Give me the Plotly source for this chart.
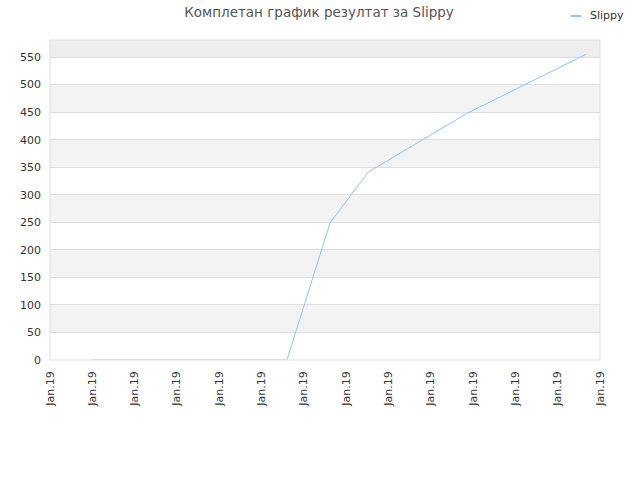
import plotly.graph_objects as go

# data
x_pos = [0.97, 5.60, 6.62, 7.52, 9.86, 12.67]
y_vals = [0, 0, 249, 341, 448, 555]
tick_vals = list(range(14))
tick_labels = ["Jan.19"] * 14
series_name = "Slippy"
title_text = "Комплетан график резултат за Slippy"
y_max = 581

W, H = 640, 480
ML, MR, MT, MB = 50, 40, 40, 120

fig = go.Figure()
fig.add_trace(go.Scatter(x=x_pos, y=y_vals, mode="lines", name=series_name,
                         line=dict(color="#90c4f4", width=1), showlegend=False))

shapes = []
for lo in range(50, 550, 100):
    shapes.append(dict(type="rect", xref="paper", yref="y", x0=0, x1=1, y0=lo, y1=lo + 50,
                       fillcolor="#f3f3f3", line_width=0, layer="below"))
shapes.append(dict(type="rect", xref="paper", yref="y", x0=0, x1=1, y0=550, y1=y_max,
                   fillcolor="#eeeeee", line_width=0, layer="below"))
shapes.append(dict(type="rect", xref="paper", yref="paper", x0=0, x1=1, y0=0, y1=1,
                   fillcolor="rgba(0,0,0,0)", line=dict(color="#dddddd", width=1)))

# legend drawn manually (short line sample); coords are screen pixels
pw, ph = W - ML - MR, H - MT - MB
def px_x(p):
    return (p - ML) / pw
def px_y(p):
    return (H - MB - p) / ph
shapes.append(dict(type="line", xref="paper", yref="paper", x0=px_x(571), x1=px_x(581),
                   y0=px_y(16), y1=px_y(16), line=dict(color="#90c4f4", width=2)))
annotations = [dict(text=series_name, xref="paper", yref="paper", x=px_x(588), y=px_y(15),
                    xanchor="left", yanchor="middle", showarrow=False,
                    font=dict(size=11, color="#333333"))]

fig.update_layout(
    width=W, height=H,
    margin=dict(l=ML, r=MR, t=MT, b=MB, autoexpand=False),
    paper_bgcolor="white", plot_bgcolor="white",
    font=dict(family="DejaVu Sans", size=11, color="#333333"),
    title=dict(text=title_text, x=319 / W, xanchor="center", yref="container",
               y=1 - 12 / H, yanchor="middle",
               font=dict(size=13.5, color="#555555")),
    showlegend=False,
    shapes=shapes,
    annotations=annotations,
    xaxis=dict(range=[0, 13], tickvals=tick_vals, ticktext=tick_labels, tickangle=-90,
               showgrid=False, zeroline=False, showline=False, ticks="",
               ticklabelstandoff=8,
               tickfont=dict(size=11, color="#333333"), automargin=False),
    yaxis=dict(range=[0, y_max], tickvals=list(range(0, 551, 50)), showgrid=True,
               gridcolor="#dddddd", zeroline=False, showline=False, ticks="",
               ticklabelstandoff=8,
               tickfont=dict(size=11, color="#333333"), automargin=False),
)

fig.write_html("out.html", config={"displayModeBar": False},
               post_script="document.body.style.margin='0';")
